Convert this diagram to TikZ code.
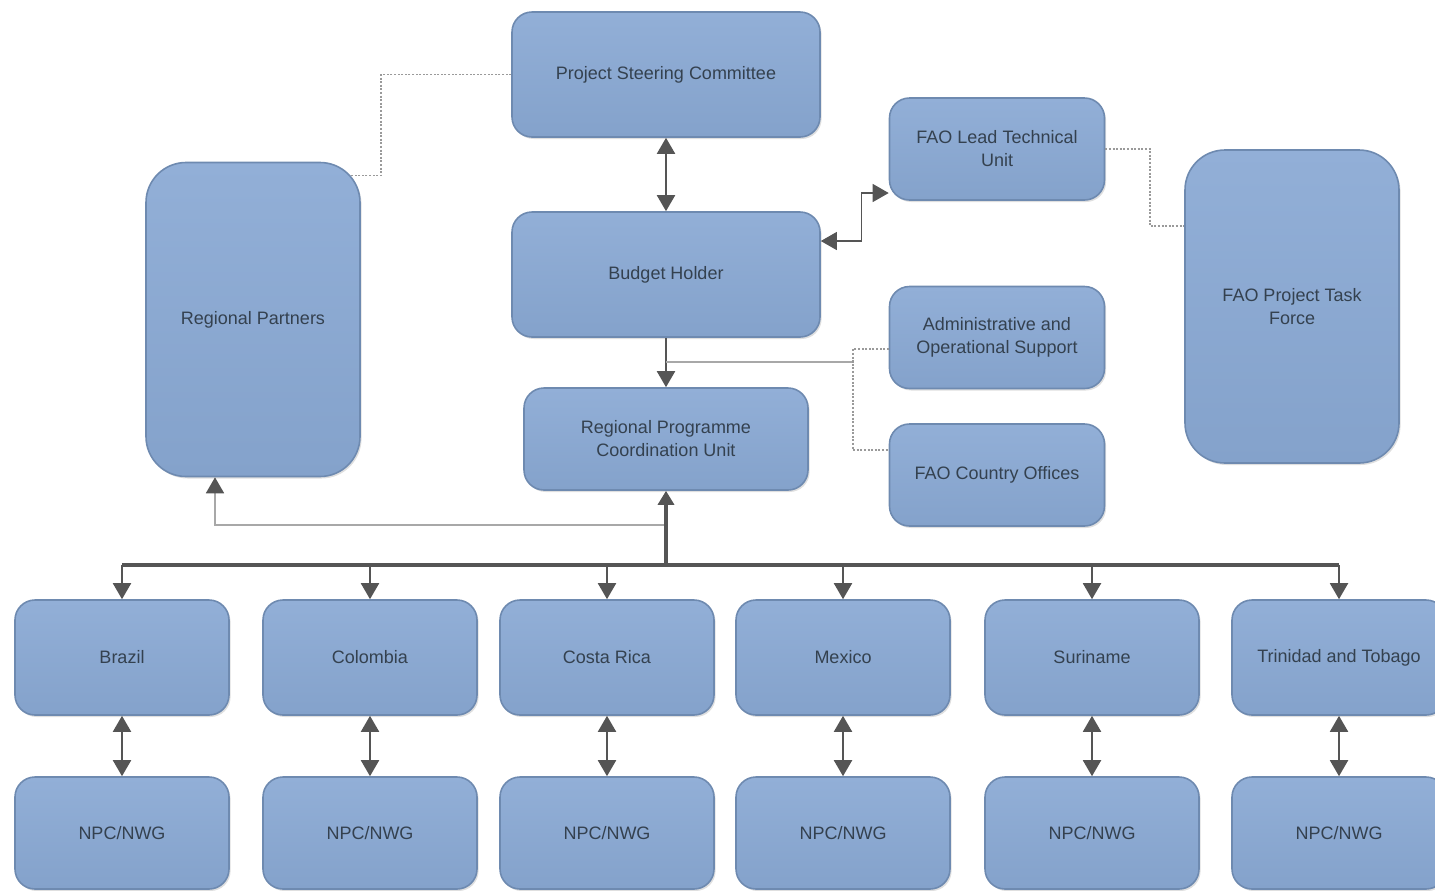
\documentclass[tikz,border=0pt]{standalone}
\usepackage{fontspec}
\setmainfont{Liberation Sans}
\usetikzlibrary{arrows.meta,shadows}
\definecolor{boxtop}{HTML}{92AFD7}
\definecolor{boxbot}{HTML}{84A2CB}
\definecolor{boxdraw}{HTML}{6E8AB0}
\definecolor{txt}{HTML}{34414F}
\definecolor{ln}{HTML}{555555}
\definecolor{dotc}{HTML}{9A9A9A}
\definecolor{lgrey}{HTML}{A8A8A8}
\begin{document}
\begin{tikzpicture}[x=0.5pt,y=-0.5pt,
  box/.style={draw=boxdraw,line width=0.8pt,top color=boxtop,bottom color=boxbot,
    rounded corners=10pt,text=txt,font=\fontsize{9}{11.5}\selectfont,align=center,inner sep=0pt,
    drop shadow={shadow xshift=0.8pt,shadow yshift=-1pt,opacity=0.25}},
  wide/.style={box,minimum width=154pt,minimum height=62.5pt},
  side/.style={box,minimum width=107.5pt,minimum height=51pt},
  tall/.style={box,minimum width=107pt,minimum height=157pt,rounded corners=20pt},
  ctry/.style={box,minimum width=107pt,minimum height=57.5pt},
  npc/.style={box,minimum width=107pt,minimum height=56pt},
  onearr/.style={draw=ln,line width=1pt,-{Triangle[length=8pt,width=9pt]}},
  twoarr/.style={draw=ln,line width=1pt,{Triangle[length=8pt,width=9pt]}-{Triangle[length=8pt,width=9pt]}},
  thinarr/.style={draw=ln,line width=0.6pt,{Triangle[length=8pt,width=9pt]}-{Triangle[length=8pt,width=9pt]}},
  dotln/.style={draw=dotc,line width=0.9pt,dash pattern=on 1pt off 0.8pt},
  greyln/.style={draw=lgrey,line width=0.9pt},
]
\useasboundingbox (0,0) rectangle (1435,890);

% top and middle nodes
\node[wide] (PSC) at (666,74.5) {Project Steering Committee};
\node[wide] (BH) at (666,274.5) {Budget Holder};
\node[box,minimum width=142pt,minimum height=51pt] (RPCU) at (666,439) {Regional Programme\\Coordination Unit};
\node[tall] (RP) at (253,319.5) {Regional Partners};
\node[side] (FLT) at (997,149) {FAO Lead Technical\\Unit};
\node[side] (AOS) at (997,337.5) {Administrative and\\Operational Support};
\node[side] (FCO) at (997,475) {FAO Country Offices};
\node[tall,minimum height=156.5pt] (FPTF) at (1292,306.5) {FAO Project Task\\Force};

% country row and NPC row
\foreach \i/\x/\t in {1/122/Brazil,2/370/Colombia,3/607/Costa Rica,4/843/Mexico,5/1092/Suriname,6/1339/Trinidad and Tobago}{
  \node[ctry] (c\i) at (\x,657.5) {\t};
  \node[npc] (n\i) at (\x,833) {NPC/NWG};
  \draw[twoarr] (c\i.south) -- (n\i.north);
}

% connectors
\draw[dotln] (PSC.west) -- (381,74.5) |- ([xshift=-5pt,yshift=72pt]RP.east);
\draw[twoarr] (PSC.south) -- (BH.north);
\draw[thinarr] ([yshift=16.75pt]BH.east) -- ++(41,0) |- ([yshift=-22pt]FLT.west);
\draw[dotln] (FLT.east) -- (1150,149) |- ([yshift=40.25pt]FPTF.west);
\draw[onearr] (BH.south) -- (RPCU.north);
\coordinate (aj) at (666,362);
\coordinate (av) at (853,362);
\draw[greyln] (aj) -- (av);
\draw[dotln] ([yshift=-5.75pt]AOS.west) -| (av) |- ([yshift=12.5pt]FCO.west);

\coordinate (bus) at (666,565);
\coordinate (rj) at (666,525);
\draw[greyln,-{Triangle[length=8pt,width=9pt,color=ln]}] (rj) -| ([xshift=-19pt]RP.south);
\draw[draw=ln,line width=1.6pt,-{Triangle[length=7pt,width=8pt]}] (bus) -- (RPCU.south);
\draw[draw=ln,line width=1.6pt] (c1.north |- bus) -- (c6.north |- bus);
\foreach \i in {1,...,6}{
  \draw[onearr] (c\i.north |- bus) -- (c\i.north);
}
\end{tikzpicture}
\end{document}
